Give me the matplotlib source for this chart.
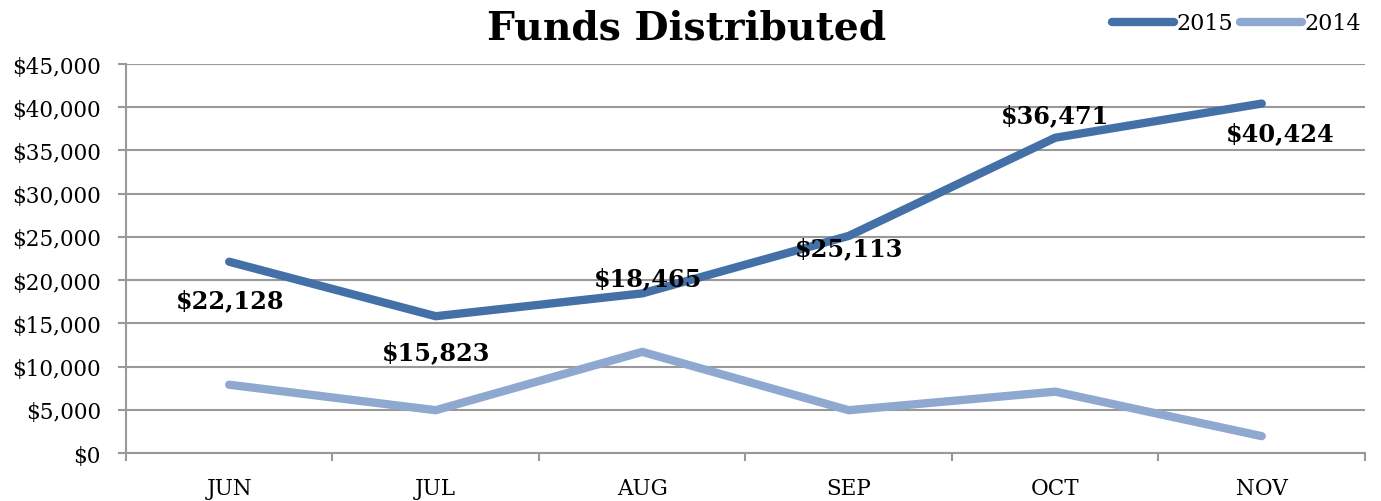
import matplotlib

matplotlib.use("Agg")
import matplotlib.pyplot as plt
import numpy as np
from matplotlib.ticker import FuncFormatter, MultipleLocator


months = ["JUN", "JUL", "AUG", "SEP", "OCT", "NOV"]
funds_2015 = [22128, 15823, 18465, 25113, 36471, 40424]
funds_2014 = [7900, 4950, 11700, 4950, 7100, 1950]

# label offsets (points) for the 2015 data labels
label_offsets = [(1, -28), (0, -26), (4, 11), (0, -9), (0, 16), (13, -21)]

color_2015 = "#4470a8"
color_2014 = "#8ea8d0"
grid_color = "#999999"

plt.rcParams["font.family"] = ["DejaVu Serif"]


def money(v, pos=None):
    return f"${v:,.0f}"


def main():
    fig = plt.figure(figsize=(13.81, 5.02), dpi=100)
    ax = fig.add_axes([0.0912, 0.0956, 0.8972, 0.7749])

    x = np.arange(len(months))

    ax.plot(x, funds_2015, color=color_2015, lw=6, solid_capstyle="round",
            solid_joinstyle="round", label="2015", zorder=3)
    ax.plot(x, funds_2014, color=color_2014, lw=6, solid_capstyle="round",
            solid_joinstyle="round", label="2014", zorder=3)

    for xi, v, off in zip(x, funds_2015, label_offsets):
        ax.annotate(money(v), (xi, v), xytext=off, textcoords="offset points",
                    ha="center", va="center", fontsize=17.3, fontweight="bold",
                    zorder=4)

    ax.set_xlim(-0.5, len(months) - 0.5)
    ax.set_ylim(0, 45000)
    ax.yaxis.set_major_locator(MultipleLocator(5000))
    ax.yaxis.set_major_formatter(FuncFormatter(money))
    ax.set_xticks(x)
    ax.set_xticklabels(months)
    ax.set_xticks(np.arange(-0.5, len(months)), minor=True)

    ax.grid(axis="y", color=grid_color, lw=1.5, zorder=1)
    ax.set_axisbelow(True)
    for side in ("top", "right"):
        ax.spines[side].set_visible(False)
    for side in ("left", "bottom"):
        ax.spines[side].set_color(grid_color)
        ax.spines[side].set_linewidth(1.5)

    ax.tick_params(axis="y", which="major", length=6, width=1.5,
                   color=grid_color, labelsize=15.5, pad=12)
    ax.tick_params(axis="x", which="major", length=0, labelsize=15.5, pad=17)
    ax.tick_params(axis="x", which="minor", length=6, width=1.5,
                   color=grid_color)

    fig.text(0.497, 0.943, "Funds Distributed", ha="center", va="center",
             fontsize=28.3, fontweight="bold")

    fig.legend(loc="upper right", bbox_to_anchor=(0.995, 1.0), ncol=2,
               frameon=False, fontsize=16, handlelength=2.8,
               handletextpad=0.1, columnspacing=0.3, borderaxespad=0.2)

    fig.savefig("out.png", dpi=100)
    plt.close(fig)


if __name__ == "__main__":
    main()
